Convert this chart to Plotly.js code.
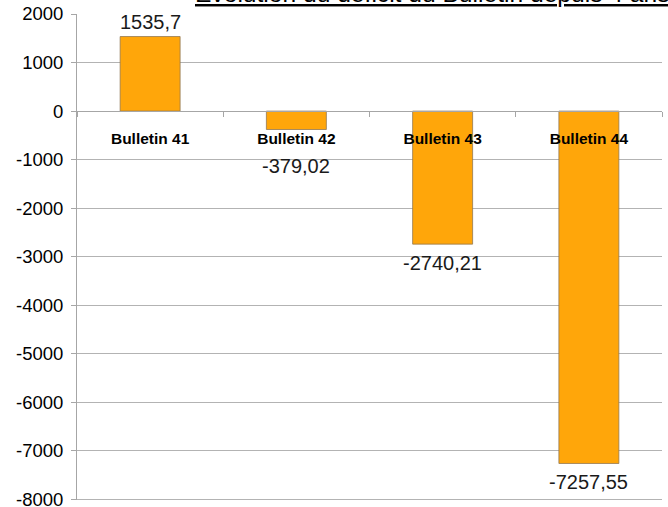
<!DOCTYPE html>
<html>
<head>
<meta charset="utf-8">
<script src="https://cdn.plot.ly/plotly-3.0.1.min.js"></script>
<style>html,body{margin:0;padding:0;background:#fff;}#chart{width:668px;height:507px;}</style>
</head>
<body>
<div id="chart"></div>
<script>
var categories = ["Bulletin 41", "Bulletin 42", "Bulletin 43", "Bulletin 44"];
var deficits = [1535.7, -379.02, -2740.21, -7257.55];
var yTickVals = [2000, 1000, 0, -1000, -2000, -3000, -4000, -5000, -6000, -7000, -8000];
var yTickText = ["2000", "1000", "0", "-1000", "-2000", "-3000", "-4000", "-5000", "-6000", "-7000", "-8000"];
var chartTitle = "Évolution du déficit du Bulletin depuis 4 ans";

var FONT = 'Liberation Sans, Arial, sans-serif';

var trace = {
  type: 'bar',
  x: categories,
  y: deficits,
  width: 0.41,
  marker: { color: '#FFA60A', line: { color: 'rgba(140,115,80,0.75)', width: 1 } },
  hoverinfo: 'none'
};

// value labels, placed from the data values (small bars get pushed below the axis labels)
var valueLabels = deficits.map(function (v, i) {
  var txt = String(v).replace('.', ',');
  var small = Math.abs(v) < 1000;
  return {
    text: txt,
    x: categories[i], y: v,
    xref: 'x', yref: 'y',
    xanchor: 'center',
    yanchor: v >= 0 ? 'bottom' : 'top',
    yshift: v >= 0 ? 2 : (small ? -23 : -6),
    showarrow: false,
    font: { family: FONT, size: 20, color: '#1a1a1a' }
  };
});

var yMin = yTickVals[yTickVals.length - 1];

var layout = {
  width: 668,
  height: 507,
  margin: { l: 77, r: 6, t: 14, b: 7 },
  paper_bgcolor: '#ffffff',
  plot_bgcolor: '#ffffff',
  showlegend: false,
  font: { family: FONT, color: '#000' },
  xaxis: {
    type: 'category',
    anchor: 'free',
    position: 0.8,
    showline: true,
    linecolor: '#a6a6a6',
    linewidth: 1,
    showgrid: false,
    zeroline: false,
    ticks: 'outside',
    tickson: 'boundaries',
    ticklen: 5,
    tickcolor: '#a6a6a6',
    ticklabelstandoff: 13,
    tickfont: { family: FONT, size: 15.5, color: '#000' },
    tickvals: categories,
    ticktext: categories.map(function (c) { return '<b>' + c + '</b>'; })
  },
  yaxis: {
    range: [-8010, 2000],
    tickmode: 'array',
    tickvals: yTickVals,
    ticktext: yTickText,
    ticklabeloverflow: 'allow',
    showline: true,
    linecolor: '#a6a6a6',
    linewidth: 1,
    showgrid: true,
    gridcolor: '#b3b3b3',
    gridwidth: 1,
    zeroline: false,
    ticks: 'outside',
    ticklen: 5,
    tickcolor: '#a6a6a6',
    ticklabelstandoff: 4,
    tickfont: { family: FONT, size: 18.5, color: '#000' }
  },
  shapes: [{
    type: 'line', xref: 'paper', yref: 'y',
    x0: 0, x1: 1, y0: yMin, y1: yMin,
    line: { color: '#b3b3b3', width: 1 }, layer: 'below'
  }],
  annotations: [{
    text: '<u>' + chartTitle + '</u>',
    xref: 'paper', yref: 'paper',
    x: 0.198, y: 1,
    xanchor: 'left', yanchor: 'middle',
    yshift: 20.5,
    showarrow: false,
    font: { family: FONT, size: 24.6, color: '#000' }
  }].concat(valueLabels)
};

Plotly.newPlot('chart', [trace], layout, { staticPlot: true, displayModeBar: false });
</script>
</body>
</html>
